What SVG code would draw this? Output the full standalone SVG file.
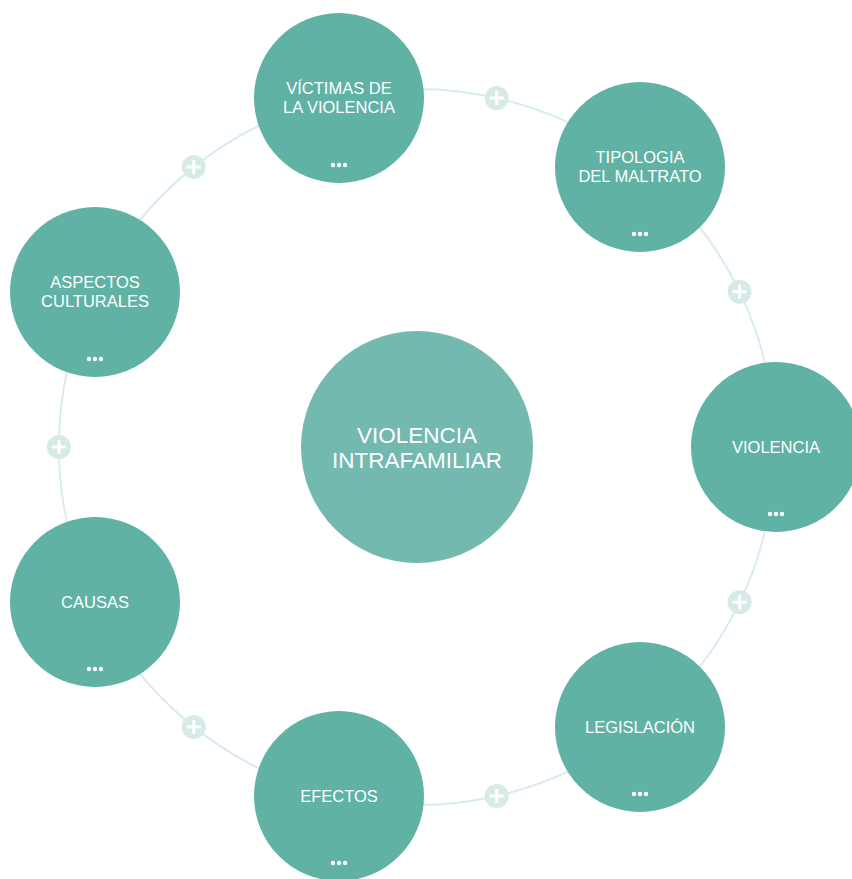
<svg xmlns="http://www.w3.org/2000/svg" width="852" height="879" viewBox="0 0 852 879">
<defs>
<style>
.ring{fill:none;stroke:#d8ece8;stroke-width:2}
.node{fill:#5fb2a4}
.center{fill:#73b9b0}
.lbl{font-family:"Liberation Sans",Arial,sans-serif;font-size:16.5px;fill:#ffffff;text-anchor:middle}
.clbl{font-family:"Liberation Sans",Arial,sans-serif;font-size:22.5px;fill:#ffffff;text-anchor:middle}
.dot{fill:#ffffff}
.plusbg{fill:#d6ebe7}
.plus{stroke:#ffffff;stroke-width:3;stroke-linecap:butt}
</style>
<g id="more">
<circle class="dot" cx="-6" cy="0" r="2.2"/>
<circle class="dot" cx="0" cy="0" r="2.2"/>
<circle class="dot" cx="6" cy="0" r="2.2"/>
</g>
<g id="plusicon">
<circle class="plusbg" cx="0" cy="0" r="12"/>
<line class="plus" x1="-7" y1="0" x2="7" y2="0"/>
<line class="plus" x1="0" y1="-7" x2="0" y2="7"/>
</g>
</defs>
<rect width="852" height="879" fill="#ffffff"/>
<g id="connectors">
<path class="ring" d="M775,447 A358,358 0 0 1 640.2,726.9"/>
<path class="ring" d="M640.2,726.9 A358,358 0 0 1 337.3,796"/>
<path class="ring" d="M337.3,796 A358,358 0 0 1 94.4,602.3"/>
<path class="ring" d="M94.4,602.3 A358,358 0 0 1 94.4,291.7"/>
<path class="ring" d="M94.4,291.7 A358,358 0 0 1 337.3,98"/>
<path class="ring" d="M337.3,98 A358,358 0 0 1 640.2,167.1"/>
<path class="ring" d="M640.2,167.1 A358,358 0 0 1 775,447"/>
<use href="#plusicon" x="739.6" y="602.3"/>
<use href="#plusicon" x="496.7" y="796"/>
<use href="#plusicon" x="193.8" y="726.9"/>
<use href="#plusicon" x="59" y="447"/>
<use href="#plusicon" x="193.8" y="167.1"/>
<use href="#plusicon" x="496.7" y="98"/>
<use href="#plusicon" x="739.6" y="291.7"/>
</g>
<g id="node-center">
<circle class="center" cx="417" cy="447" r="116"/>
<text class="clbl" x="417" y="443">VIOLENCIA</text>
<text class="clbl" x="417" y="468">INTRAFAMILIAR</text>
</g>
<g id="node-victimas">
<circle class="node" cx="339" cy="98" r="85"/>
<text class="lbl" x="339" y="94">VÍCTIMAS DE</text>
<text class="lbl" x="339" y="113">LA VIOLENCIA</text>
<use href="#more" x="339" y="165"/>
</g>
<g id="node-tipologia">
<circle class="node" cx="640" cy="167" r="85"/>
<text class="lbl" x="640" y="163">TIPOLOGIA</text>
<text class="lbl" x="640" y="182">DEL MALTRATO</text>
<use href="#more" x="640" y="234"/>
</g>
<g id="node-violencia">
<circle class="node" cx="776" cy="447" r="85"/>
<text class="lbl" x="776" y="453">VIOLENCIA</text>
<use href="#more" x="776" y="514"/>
</g>
<g id="node-legislacion">
<circle class="node" cx="640" cy="727" r="85"/>
<text class="lbl" x="640" y="733">LEGISLACIÓN</text>
<use href="#more" x="640" y="794"/>
</g>
<g id="node-efectos">
<circle class="node" cx="339" cy="796" r="85"/>
<text class="lbl" x="339" y="802">EFECTOS</text>
<use href="#more" x="339" y="863"/>
</g>
<g id="node-causas">
<circle class="node" cx="95" cy="602" r="85"/>
<text class="lbl" x="95" y="608">CAUSAS</text>
<use href="#more" x="95" y="669"/>
</g>
<g id="node-aspectos">
<circle class="node" cx="95" cy="292" r="85"/>
<text class="lbl" x="95" y="288">ASPECTOS</text>
<text class="lbl" x="95" y="307">CULTURALES</text>
<use href="#more" x="95" y="359"/>
</g>
</svg>
